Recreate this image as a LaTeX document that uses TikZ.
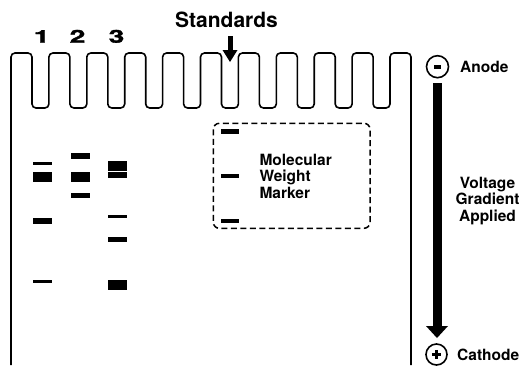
\documentclass[tikz,border=0pt]{standalone}
\usepackage{graphicx}
\usepackage{fontspec}
\setmainfont{TeX Gyre Heros}
\newfontfamily\heavyfont[FakeBold=1.6]{TeX Gyre Heros}
\begin{document}
\begin{tikzpicture}[x=1pt,y=-1pt,
  gel/.style={line width=1.6pt, rounded corners=4pt},
  band/.style={fill=black},
  lbl/.style={font=\fontsize{15.5}{16.6}\selectfont\bfseries, inner sep=0pt},
  title/.style={font=\fontsize{21}{24}\selectfont\bfseries, inner sep=0pt},
  lane/.style={font=\fontsize{17.7}{20}\selectfont\heavyfont\bfseries, inner sep=0pt},
  marker/.style={line width=1.5pt, rounded corners=6pt, dash pattern=on 6pt off 3.5pt},
  pole/.style={line width=1.6pt}]
\useasboundingbox (0,0) rectangle (521,365);

% gel with comb wells
\draw[gel] (11,365) -- (11,53)
  \foreach \k in {0,...,9} {
    -- ({11+37.9*\k+21},53) -- ({11+37.9*\k+21},108)
    -- ({11+37.9*(\k+1)},108) -- ({11+37.9*(\k+1)},53)
  } -- (411,53) -- (411,365);

% lane labels
\node[lane, anchor=base] (l1) at (41.7,42.7) {\scalebox{1.6}[1]{1}};
\node[lane, anchor=base] (l2) at (77.5,42.7) {\scalebox{1.6}[1]{2}};
\node[lane, anchor=base] (l3) at (116.5,42.7) {\scalebox{1.6}[1]{3}};

% standards
\node[title, anchor=base] (std) at (226.5,27) {Standards};
\coordinate (stdtip) at (230,62);
\fill (227.5,36) rectangle (232.5,50.5);
\fill (222.5,50) -- (237.5,50) -- (stdtip) -- cycle;

% bands lane 1
\fill[band] (33,161.7) rectangle (52,165.3);
\fill[band] (33,172.3) rectangle (52,181.7);
\fill[band] (33,218.3) rectangle (52,223.7);
\fill[band] (33,280) rectangle (52,283);
% lane 2
\fill[band] (71,153.3) rectangle (90,158.7);
\fill[band] (71,172.3) rectangle (90,181.7);
\fill[band] (71,193) rectangle (90,197.7);
% lane 3
\fill[band] (108,161) rectangle (127,170.7);
\fill[band] (108,172.3) rectangle (127,177.7);
\fill[band] (108,215) rectangle (127,218);
\fill[band] (108,236.7) rectangle (127,241.7);
\fill[band] (108,280) rectangle (127,290);
% marker
\draw[marker] (213.3,123.3) rectangle (370,228.3);
\fill[band] (220.7,129.3) rectangle (239,134);
\fill[band] (220.7,174) rectangle (239,178.3);
\fill[band] (220.7,219) rectangle (239,223.3);
\node[lbl, anchor=base west] (m1) at (259.3,165) {Molecular};
\node[lbl, anchor=base west] (m2) at (259.3,181.7) {Weight};
\node[lbl, anchor=base west] (m3) at (259.3,198.3) {Marker};

% anode
\node[pole, draw, circle, minimum size=22pt, inner sep=0pt] (an) at (437.5,66.7) {};
\fill (434,64.8) rectangle (441,68.8);
\node[lbl, anchor=base west] (ant) at (460,72) {Anode};

% cathode
\node[pole, draw, circle, minimum size=21pt, inner sep=0pt] (ca) at (436.5,354.5) {};
\draw[line width=2.6pt] (431.8,354.5) -- (441.2,354.5) (436.5,349.8) -- (436.5,359.2);
\node[lbl, anchor=base west] (cat) at (457,360) {Cathode};

% voltage arrow
\coordinate (vtip) at (437,338);
\fill (432.5,83) rectangle (441.5,326.5);
\fill (426,326) -- (448,326) -- (vtip) -- cycle;
\node[lbl, anchor=base] (v1) at (487.5,188) {Voltage};
\node[lbl, anchor=base] (v2) at (487.5,204.6) {Gradient};
\node[lbl, anchor=base] (v3) at (487.5,221.2) {Applied};
\end{tikzpicture}
\end{document}
